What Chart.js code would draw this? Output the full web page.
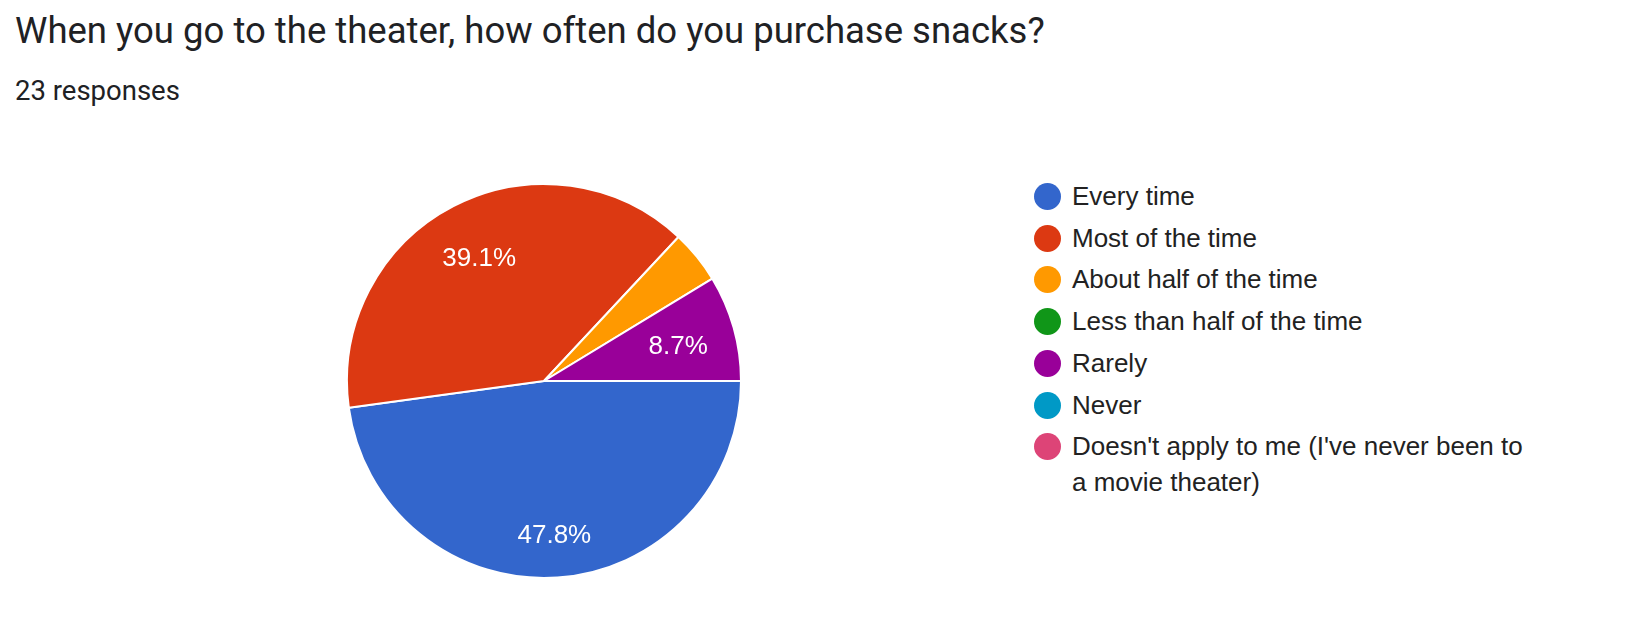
<!DOCTYPE html>
<html>
<head>
<meta charset="utf-8">
<script src="https://cdn.jsdelivr.net/npm/chart.js@4.4.1/dist/chart.umd.min.js"></script>
<style>
  html, body { margin: 0; padding: 0; background: #fff; }
  body { width: 1626px; height: 637px; position: relative; overflow: hidden; }
  #title { position: absolute; left: 15px; top: 13px; font: 400 36.5px Roboto, sans-serif; line-height: 36px; color: #202124; white-space: nowrap; }
  #sub { position: absolute; left: 15px; top: 77px; font: 400 27.5px Roboto, sans-serif; line-height: 27px; color: #202124; white-space: nowrap; }
  #pie { position: absolute; left: 344px; top: 181px; width: 400px; height: 400px; }
  .row { position: absolute; left: 1034px; font: 26px "Liberation Sans", Arial, sans-serif; line-height: 36px; color: #222; }
  .dot { position: absolute; left: 0; top: 5px; width: 27px; height: 27px; border-radius: 50%; }
  .txt { margin-left: 38px; }
</style>
</head>
<body>
<div id="title">When you go to the theater, how often do you purchase snacks?</div>
<div id="sub">23 responses</div>
<div id="pie"><canvas id="snacks-pie"></canvas></div>
<div id="legend"></div>
<script>
var answers = ['Every time', 'Most of the time', 'About half of the time', 'Less than half of the time', 'Rarely', 'Never', "Doesn't apply to me (I've never been to a movie theater)"];
var counts = [11, 9, 1, 0, 2, 0, 0];
var colors = ['#3366cc', '#dc3912', '#ff9900', '#109618', '#990099', '#0099c6', '#dd4477'];
var total = counts.reduce(function (a, b) { return a + b; }, 0);

// legend wraps like the original: "...been to" / "a movie theater)"
var mctx = document.createElement('canvas').getContext('2d');
mctx.font = '26px "Liberation Sans", Arial, sans-serif';
var wrapWidth = (mctx.measureText("Doesn't apply to me (I've never been to").width +
                 mctx.measureText("Doesn't apply to me (I've never been to a").width) / 2;

var legend = document.getElementById('legend');
answers.forEach(function (name, i) {
    var row = document.createElement('div');
    row.className = 'row';
    row.style.top = (196 - 18 + i * 41.7) + 'px';
    var dot = document.createElement('div');
    dot.className = 'dot';
    dot.style.background = colors[i];
    var txt = document.createElement('div');
    txt.className = 'txt';
    txt.style.width = wrapWidth + 'px';
    txt.textContent = name;
    row.appendChild(dot);
    row.appendChild(txt);
    legend.appendChild(row);
});

// percent labels inside the slices, pushed out until the far corner of the text box hits 0.87 r
var sliceLabels = {
    id: 'sliceLabels',
    afterDatasetsDraw: function (chart) {
        var ctx = chart.ctx;
        var meta = chart.getDatasetMeta(0);
        ctx.save();
        ctx.fillStyle = '#fff';
        ctx.font = '26px "Liberation Sans", Arial, sans-serif';
        ctx.textAlign = 'center';
        ctx.textBaseline = 'middle';
        meta.data.forEach(function (arc, i) {
            var pct = counts[i] / total * 100;
            if (pct < 5) return;
            var text = pct.toFixed(1) + '%';
            var mid = (arc.startAngle + arc.endAngle) / 2;
            var dx = Math.cos(mid), dy = Math.sin(mid);
            var hw = ctx.measureText(text).width / 2, hh = 13;
            var sx = (dx >= 0 ? 1 : -1) * hw, sy = (dy >= 0 ? 1 : -1) * hh;
            var R0 = arc.outerRadius * 0.87;
            var b = dx * sx + dy * sy;
            var d = -b + Math.sqrt(b * b - (sx * sx + sy * sy) + R0 * R0);
            ctx.fillText(text, arc.x + dx * d, arc.y + dy * d + 3);
        });
        ctx.restore();
    }
};

var ctx = document.getElementById('snacks-pie');
var chart = new Chart(ctx, {
    type: 'pie',
    data: {
        labels: answers,
        datasets: [{
            data: counts,
            backgroundColor: colors,
            borderColor: '#fff',
            borderWidth: 2
        }]
    },
    options: {
        responsive: true,
        maintainAspectRatio: false,
        animation: false,
        rotation: 90,
        layout: { padding: 2 },
        plugins: {
            legend: { display: false },
            tooltip: { enabled: false }
        }
    },
    plugins: [sliceLabels]
});
</script>
</body>
</html>
